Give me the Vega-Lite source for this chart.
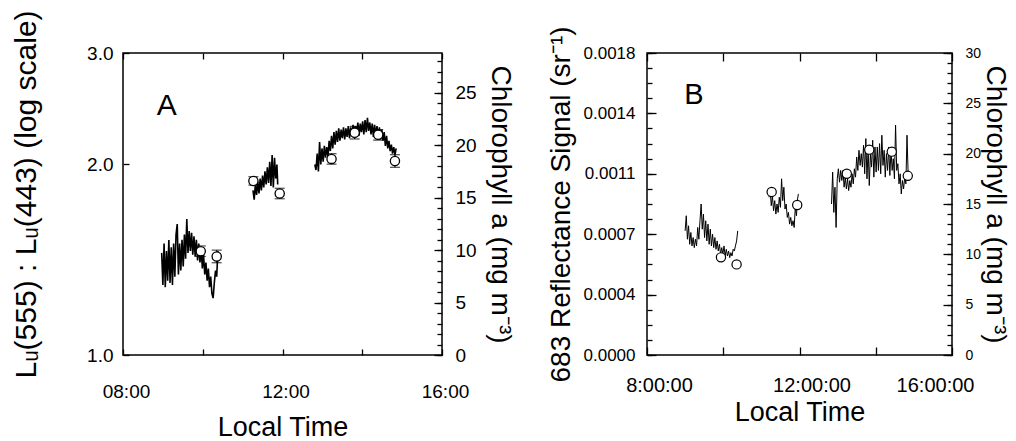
{
"$schema": "https://vega.github.io/schema/vega-lite/v6.json",
"background": "white",
"padding": {"left": 10, "top": 9, "right": 5, "bottom": 5},
"autosize": {"type": "pad"},
"bounds": "flush",
"spacing": 205,
"config": {
  "view": {"stroke": "black", "strokeWidth": 1.5},
  "font": "Liberation Sans",
  "text": {"font": "Liberation Sans"},
  "axis": {"domain": false, "grid": false, "tickColor": "black", "tickWidth": 1.3, "labelColor": "black", "titleColor": "black", "labelFont": "Liberation Sans", "titleFont": "Liberation Sans", "titleFontWeight": "normal", "labelOverlap": false, "labelFlush": false}
},
"datasets": {
  "lineA": [
    {"t":8.97,"v":1.45,"s":1},{"t":9.00,"v":1.29,"s":1},{"t":9.03,"v":1.50,"s":1},{"t":9.06,"v":1.28,"s":1},{"t":9.09,"v":1.46,"s":1},{"t":9.12,"v":1.31,"s":1},{"t":9.15,"v":1.52,"s":1},{"t":9.18,"v":1.30,"s":1},{"t":9.21,"v":1.48,"s":1},{"t":9.24,"v":1.29,"s":1},{"t":9.27,"v":1.50,"s":1},{"t":9.30,"v":1.33,"s":1},{"t":9.33,"v":1.55,"s":1},{"t":9.36,"v":1.61,"s":1},{"t":9.39,"v":1.34,"s":1},{"t":9.42,"v":1.50,"s":1},{"t":9.45,"v":1.36,"s":1},{"t":9.48,"v":1.52,"s":1},{"t":9.51,"v":1.38,"s":1},{"t":9.54,"v":1.55,"s":1},{"t":9.57,"v":1.42,"s":1},{"t":9.60,"v":1.64,"s":1},{"t":9.63,"v":1.45,"s":1},{"t":9.66,"v":1.57,"s":1},{"t":9.69,"v":1.46,"s":1},{"t":9.72,"v":1.56,"s":1},{"t":9.75,"v":1.44,"s":1},{"t":9.78,"v":1.54,"s":1},{"t":9.81,"v":1.43,"s":1},{"t":9.84,"v":1.52,"s":1},{"t":9.87,"v":1.41,"s":1},{"t":9.90,"v":1.50,"s":1},{"t":9.93,"v":1.40,"s":1},{"t":9.96,"v":1.47,"s":1},{"t":9.99,"v":1.37,"s":1},{"t":10.02,"v":1.44,"s":1},{"t":10.05,"v":1.34,"s":1},{"t":10.08,"v":1.40,"s":1},{"t":10.11,"v":1.31,"s":1},{"t":10.14,"v":1.37,"s":1},{"t":10.17,"v":1.28,"s":1},{"t":10.20,"v":1.33,"s":1},{"t":10.23,"v":1.25,"s":1},{"t":10.26,"v":1.23,"s":1},{"t":10.29,"v":1.30,"s":1},{"t":10.32,"v":1.36,"s":1},{"t":10.35,"v":1.33,"s":1},{"t":10.38,"v":1.46,"s":1},
    {"t":11.26,"v":1.82,"s":2},{"t":11.29,"v":1.76,"s":2},{"t":11.32,"v":1.86,"s":2},{"t":11.35,"v":1.79,"s":2},{"t":11.38,"v":1.88,"s":2},{"t":11.41,"v":1.80,"s":2},{"t":11.44,"v":1.90,"s":2},{"t":11.47,"v":1.82,"s":2},{"t":11.50,"v":1.92,"s":2},{"t":11.53,"v":1.84,"s":2},{"t":11.56,"v":1.95,"s":2},{"t":11.59,"v":1.86,"s":2},{"t":11.62,"v":1.98,"s":2},{"t":11.65,"v":1.87,"s":2},{"t":11.68,"v":2.02,"s":2},{"t":11.71,"v":1.85,"s":2},{"t":11.74,"v":2.07,"s":2},{"t":11.77,"v":1.84,"s":2},{"t":11.80,"v":2.05,"s":2},{"t":11.83,"v":1.90,"s":2},{"t":11.86,"v":2.00,"s":2},{"t":11.88,"v":1.86,"s":2},
    {"t":12.81,"v":2.00,"s":3},{"t":12.84,"v":1.96,"s":3},{"t":12.87,"v":2.08,"s":3},{"t":12.90,"v":1.95,"s":3},{"t":12.93,"v":2.17,"s":3},{"t":12.96,"v":2.00,"s":3},{"t":12.99,"v":2.12,"s":3},{"t":13.02,"v":2.02,"s":3},{"t":13.05,"v":2.14,"s":3},{"t":13.08,"v":2.05,"s":3},{"t":13.11,"v":2.13,"s":3},{"t":13.14,"v":2.06,"s":3},{"t":13.17,"v":2.18,"s":3},{"t":13.20,"v":2.10,"s":3},{"t":13.23,"v":2.22,"s":3},{"t":13.26,"v":2.12,"s":3},{"t":13.29,"v":2.25,"s":3},{"t":13.32,"v":2.15,"s":3},{"t":13.35,"v":2.26,"s":3},{"t":13.38,"v":2.17,"s":3},{"t":13.41,"v":2.28,"s":3},{"t":13.44,"v":2.18,"s":3},{"t":13.47,"v":2.27,"s":3},{"t":13.50,"v":2.20,"s":3},{"t":13.53,"v":2.29,"s":3},{"t":13.56,"v":2.19,"s":3},{"t":13.59,"v":2.28,"s":3},{"t":13.62,"v":2.21,"s":3},{"t":13.65,"v":2.30,"s":3},{"t":13.68,"v":2.20,"s":3},{"t":13.71,"v":2.29,"s":3},{"t":13.74,"v":2.22,"s":3},{"t":13.77,"v":2.31,"s":3},{"t":13.80,"v":2.21,"s":3},{"t":13.83,"v":2.30,"s":3},{"t":13.86,"v":2.24,"s":3},{"t":13.89,"v":2.33,"s":3},{"t":13.92,"v":2.22,"s":3},{"t":13.95,"v":2.32,"s":3},{"t":13.98,"v":2.25,"s":3},{"t":14.01,"v":2.34,"s":3},{"t":14.04,"v":2.23,"s":3},{"t":14.07,"v":2.35,"s":3},{"t":14.10,"v":2.25,"s":3},{"t":14.13,"v":2.37,"s":3},{"t":14.16,"v":2.26,"s":3},{"t":14.19,"v":2.33,"s":3},{"t":14.22,"v":2.23,"s":3},{"t":14.25,"v":2.32,"s":3},{"t":14.28,"v":2.21,"s":3},{"t":14.31,"v":2.31,"s":3},{"t":14.34,"v":2.22,"s":3},{"t":14.37,"v":2.30,"s":3},{"t":14.40,"v":2.20,"s":3},{"t":14.43,"v":2.29,"s":3},{"t":14.46,"v":2.19,"s":3},{"t":14.49,"v":2.27,"s":3},{"t":14.52,"v":2.18,"s":3},{"t":14.55,"v":2.25,"s":3},{"t":14.58,"v":2.14,"s":3},{"t":14.61,"v":2.22,"s":3},{"t":14.64,"v":2.12,"s":3},{"t":14.67,"v":2.18,"s":3},{"t":14.70,"v":2.10,"s":3},{"t":14.73,"v":2.15,"s":3},{"t":14.76,"v":2.08,"s":3},{"t":14.79,"v":2.13,"s":3},{"t":14.82,"v":2.07,"s":3},{"t":14.85,"v":2.12,"s":3}
  ],
  "ptsA": [
    {"t":9.95,"chl":9.9,"lo":9.4,"hi":10.4},{"t":10.35,"chl":9.4,"lo":8.8,"hi":10.0},{"t":11.27,"chl":16.6,"lo":16.2,"hi":17.0},{"t":11.93,"chl":15.4,"lo":14.9,"hi":15.9},{"t":13.23,"chl":18.7,"lo":18.2,"hi":19.2},{"t":13.81,"chl":21.2,"lo":20.6,"hi":21.8},{"t":14.40,"chl":21.0,"lo":20.5,"hi":21.5},{"t":14.82,"chl":18.5,"lo":17.9,"hi":19.1}
  ],
  "lineB": [
    {"t":9.00,"v":0.00074,"s":1},{"t":9.03,"v":0.00083,"s":1},{"t":9.06,"v":0.00069,"s":1},{"t":9.09,"v":0.00077,"s":1},{"t":9.12,"v":0.00066,"s":1},{"t":9.15,"v":0.00073,"s":1},{"t":9.18,"v":0.00065,"s":1},{"t":9.21,"v":0.00070,"s":1},{"t":9.24,"v":0.00064,"s":1},{"t":9.27,"v":0.00069,"s":1},{"t":9.30,"v":0.00065,"s":1},{"t":9.33,"v":0.00076,"s":1},{"t":9.36,"v":0.00069,"s":1},{"t":9.39,"v":0.00080,"s":1},{"t":9.42,"v":0.00090,"s":1},{"t":9.45,"v":0.00075,"s":1},{"t":9.48,"v":0.00084,"s":1},{"t":9.51,"v":0.00070,"s":1},{"t":9.54,"v":0.00080,"s":1},{"t":9.57,"v":0.00068,"s":1},{"t":9.60,"v":0.00078,"s":1},{"t":9.63,"v":0.00066,"s":1},{"t":9.66,"v":0.00075,"s":1},{"t":9.69,"v":0.00065,"s":1},{"t":9.72,"v":0.00072,"s":1},{"t":9.75,"v":0.00064,"s":1},{"t":9.78,"v":0.00070,"s":1},{"t":9.81,"v":0.00063,"s":1},{"t":9.84,"v":0.00068,"s":1},{"t":9.87,"v":0.00062,"s":1},{"t":9.90,"v":0.00066,"s":1},{"t":9.93,"v":0.00060,"s":1},{"t":9.96,"v":0.00064,"s":1},{"t":9.99,"v":0.00060,"s":1},{"t":10.02,"v":0.00065,"s":1},{"t":10.05,"v":0.00059,"s":1},{"t":10.08,"v":0.00063,"s":1},{"t":10.11,"v":0.00059,"s":1},{"t":10.14,"v":0.00062,"s":1},{"t":10.17,"v":0.00058,"s":1},{"t":10.20,"v":0.00061,"s":1},{"t":10.23,"v":0.00059,"s":1},{"t":10.26,"v":0.00063,"s":1},{"t":10.29,"v":0.00062,"s":1},{"t":10.32,"v":0.00065,"s":1},{"t":10.35,"v":0.00068,"s":1},{"t":10.38,"v":0.00074,"s":1},
    {"t":11.20,"v":0.00094,"s":2},{"t":11.23,"v":0.00098,"s":2},{"t":11.26,"v":0.00089,"s":2},{"t":11.29,"v":0.00095,"s":2},{"t":11.32,"v":0.00086,"s":2},{"t":11.35,"v":0.00092,"s":2},{"t":11.38,"v":0.00084,"s":2},{"t":11.41,"v":0.00090,"s":2},{"t":11.44,"v":0.00085,"s":2},{"t":11.47,"v":0.00094,"s":2},{"t":11.50,"v":0.00088,"s":2},{"t":11.53,"v":0.00105,"s":2},{"t":11.56,"v":0.00092,"s":2},{"t":11.59,"v":0.00100,"s":2},{"t":11.62,"v":0.00087,"s":2},{"t":11.65,"v":0.00090,"s":2},{"t":11.68,"v":0.00082,"s":2},{"t":11.71,"v":0.00085,"s":2},{"t":11.74,"v":0.00078,"s":2},{"t":11.77,"v":0.00082,"s":2},{"t":11.80,"v":0.00077,"s":2},{"t":11.83,"v":0.00080,"s":2},{"t":11.86,"v":0.00076,"s":2},{"t":11.89,"v":0.00088,"s":2},{"t":11.92,"v":0.00083,"s":2},{"t":11.95,"v":0.00093,"s":2},{"t":11.97,"v":0.00096,"s":2},
    {"t":12.84,"v":0.00090,"s":3},{"t":12.87,"v":0.00109,"s":3},{"t":12.90,"v":0.00085,"s":3},{"t":12.93,"v":0.00100,"s":3},{"t":12.96,"v":0.00076,"s":3},{"t":12.99,"v":0.00105,"s":3},{"t":13.02,"v":0.00111,"s":3},{"t":13.05,"v":0.00103,"s":3},{"t":13.08,"v":0.00110,"s":3},{"t":13.11,"v":0.00104,"s":3},{"t":13.14,"v":0.00110,"s":3},{"t":13.17,"v":0.00100,"s":3},{"t":13.20,"v":0.00106,"s":3},{"t":13.23,"v":0.00099,"s":3},{"t":13.26,"v":0.00105,"s":3},{"t":13.29,"v":0.00098,"s":3},{"t":13.32,"v":0.00104,"s":3},{"t":13.35,"v":0.00100,"s":3},{"t":13.38,"v":0.00108,"s":3},{"t":13.41,"v":0.00102,"s":3},{"t":13.44,"v":0.00111,"s":3},{"t":13.47,"v":0.00106,"s":3},{"t":13.50,"v":0.00118,"s":3},{"t":13.53,"v":0.00110,"s":3},{"t":13.56,"v":0.00122,"s":3},{"t":13.59,"v":0.00113,"s":3},{"t":13.62,"v":0.00120,"s":3},{"t":13.65,"v":0.00112,"s":3},{"t":13.68,"v":0.00125,"s":3},{"t":13.71,"v":0.00108,"s":3},{"t":13.74,"v":0.00129,"s":3},{"t":13.77,"v":0.00105,"s":3},{"t":13.80,"v":0.00123,"s":3},{"t":13.83,"v":0.00101,"s":3},{"t":13.86,"v":0.00120,"s":3},{"t":13.89,"v":0.00112,"s":3},{"t":13.92,"v":0.00128,"s":3},{"t":13.95,"v":0.00106,"s":3},{"t":13.98,"v":0.00124,"s":3},{"t":14.01,"v":0.00109,"s":3},{"t":14.04,"v":0.00124,"s":3},{"t":14.07,"v":0.00110,"s":3},{"t":14.10,"v":0.00126,"s":3},{"t":14.13,"v":0.00108,"s":3},{"t":14.16,"v":0.00131,"s":3},{"t":14.19,"v":0.00113,"s":3},{"t":14.22,"v":0.00122,"s":3},{"t":14.25,"v":0.00106,"s":3},{"t":14.28,"v":0.00120,"s":3},{"t":14.31,"v":0.00110,"s":3},{"t":14.34,"v":0.00124,"s":3},{"t":14.37,"v":0.00107,"s":3},{"t":14.40,"v":0.00122,"s":3},{"t":14.43,"v":0.00110,"s":3},{"t":14.46,"v":0.00117,"s":3},{"t":14.49,"v":0.00105,"s":3},{"t":14.52,"v":0.00137,"s":3},{"t":14.55,"v":0.00110,"s":3},{"t":14.58,"v":0.00114,"s":3},{"t":14.61,"v":0.00102,"s":3},{"t":14.64,"v":0.00108,"s":3},{"t":14.67,"v":0.00096,"s":3},{"t":14.70,"v":0.00104,"s":3},{"t":14.73,"v":0.00099,"s":3},{"t":14.76,"v":0.00106,"s":3},{"t":14.79,"v":0.00102,"s":3},{"t":14.82,"v":0.00131,"s":3},{"t":14.85,"v":0.00108,"s":3}
  ],
  "ptsB": [
    {"t":9.94,"chl":9.7},{"t":10.35,"chl":9.0},{"t":11.27,"chl":16.2},{"t":11.94,"chl":14.9},{"t":13.24,"chl":18.0},{"t":13.83,"chl":20.4},{"t":14.42,"chl":20.2},{"t":14.84,"chl":17.8}
  ]
},
"hconcat": [
  {
    "width": 319, "height": 302,
    "layer": [
      {"layer": [
        {"data": {"name": "lineA"}, "mark": {"type": "line", "color": "black", "strokeWidth": 1.6},
         "encoding": {
           "x": {"field": "t", "type": "quantitative", "scale": {"domain": [8, 16], "nice": false, "zero": false},
                 "axis": {"orient": "bottom", "values": [8, 10, 12, 14, 16], "labelExpr": "datum.value == 8 ? '08:00' : datum.value == 12 ? '12:00' : datum.value == 16 ? '16:00' : ''", "tickSize": 6, "offset": -6, "labelPadding": 27, "labelOffset": 3, "labelFontSize": 19, "title": "Local Time", "titleFontSize": 27, "titlePadding": 13}},
           "y": {"field": "v", "type": "quantitative", "scale": {"type": "log", "domain": [1, 3], "nice": false},
                 "axis": {"orient": "left", "values": [1, 2, 3], "format": ".1f", "tickSize": 6, "offset": -6, "labelPadding": 10, "labelFontSize": 19, "title": "Lᵤ(555) : Lᵤ(443) (log scale)", "titleFontSize": 30, "titlePadding": 45, "titleY": 141}},
           "detail": {"field": "s", "type": "nominal"}
         }},
        {"data": {"values": [{"t": 9.1, "v": 2.47, "label": "A"}]}, "mark": {"type": "text", "fontSize": 30, "color": "black", "align": "center", "baseline": "middle"},
         "encoding": {
           "x": {"field": "t", "type": "quantitative", "scale": {"domain": [8, 16], "nice": false, "zero": false},
                 "axis": {"orient": "bottom", "values": [8, 10, 12, 14, 16], "labelExpr": "datum.value == 8 ? '08:00' : datum.value == 12 ? '12:00' : datum.value == 16 ? '16:00' : ''", "tickSize": 6, "offset": -6, "labelPadding": 27, "labelOffset": 3, "labelFontSize": 19, "title": "Local Time", "titleFontSize": 27, "titlePadding": 13}},
           "y": {"field": "v", "type": "quantitative", "scale": {"type": "log", "domain": [1, 3], "nice": false},
                 "axis": {"orient": "left", "values": [1, 2, 3], "format": ".1f", "tickSize": 6, "offset": -6, "labelPadding": 10, "labelFontSize": 19, "title": "Lᵤ(555) : Lᵤ(443) (log scale)", "titleFontSize": 30, "titlePadding": 45, "titleY": 141}},
           "text": {"field": "label"}
         }}
      ]},
      {"layer": [
        {"data": {"name": "ptsA"}, "mark": {"type": "errorbar", "ticks": true, "size": 10, "thickness": 1.2, "color": "black"},
         "encoding": {
           "x": {"field": "t", "type": "quantitative", "scale": {"domain": [8, 16], "nice": false, "zero": false},
                 "axis": {"orient": "top", "values": [8, 10, 12, 14, 16], "labels": false, "title": null, "tickSize": 6, "offset": -6}},
           "y": {"field": "lo", "type": "quantitative", "scale": {"domain": [0, 28.8], "nice": false},
                 "axis": {"orient": "right", "values": [0, 5, 10, 15, 20, 25], "tickSize": 8, "offset": -8, "labelPadding": 13, "labelFontSize": 19, "title": "Chlorophyll a (mg m⁻³)", "titleFontSize": 28, "titlePadding": 9}},
           "y2": {"field": "hi"}
         }},
        {"data": {"name": "ptsA"}, "mark": {"type": "point", "shape": "circle", "filled": true, "fill": "white", "stroke": "black", "strokeWidth": 1.3, "size": 85, "opacity": 1},
         "encoding": {
           "x": {"field": "t", "type": "quantitative", "scale": {"domain": [8, 16], "nice": false, "zero": false},
                 "axis": {"orient": "top", "values": [8, 10, 12, 14, 16], "labels": false, "title": null, "tickSize": 6, "offset": -6}},
           "y": {"field": "chl", "type": "quantitative", "scale": {"domain": [0, 28.8], "nice": false},
                 "axis": {"orient": "right", "values": [0, 5, 10, 15, 20, 25], "tickSize": 8, "offset": -8, "labelPadding": 13, "labelFontSize": 19, "title": "Chlorophyll a (mg m⁻³)", "titleFontSize": 28, "titlePadding": 9}}
         }}
      ]},
      {"data": {"values": [{"t": 8, "m": 0}]}, "mark": {"type": "point", "opacity": 0},
       "encoding": {
         "x": {"field": "t", "type": "quantitative", "scale": {"domain": [8, 16], "nice": false, "zero": false}, "axis": null},
         "y": {"field": "m", "type": "quantitative", "scale": {"domain": [0, 28.8], "nice": false},
               "axis": {"orient": "right", "values": [0,1,2,3,4,5,6,7,8,9,10,11,12,13,14,15,16,17,18,19,20,21,22,23,24,25,26,27,28], "labels": false, "title": null, "tickSize": 5, "offset": -5}}
       }}
    ],
    "resolve": {"scale": {"y": "independent"}, "axis": {"x": "independent"}}
  },
  {
    "width": 305, "height": 302,
    "layer": [
      {"layer": [
        {"data": {"name": "lineB"}, "mark": {"type": "line", "color": "black", "strokeWidth": 1},
         "encoding": {
           "x": {"field": "t", "type": "quantitative", "scale": {"domain": [8, 16], "nice": false, "zero": false},
                 "axis": {"orient": "bottom", "values": [8, 10, 12, 14, 16], "labelExpr": "datum.value == 8 ? '8:00:00' : datum.value == 12 ? '12:00:00' : datum.value == 16 ? '16:00:00' : ''", "tickSize": 8, "offset": -8, "labelPadding": 20, "labelOffset": {"condition": {"test": "datum.value == 16", "value": -17}, "value": 12}, "labelFontSize": 20, "title": "Local Time", "titleFontSize": 27, "titlePadding": 4}},
           "y": {"field": "v", "type": "quantitative", "scale": {"domain": [0, 0.0018], "nice": false},
                 "axis": {"orient": "left", "values": [0, 0.00036, 0.00072, 0.00108, 0.00144, 0.0018], "format": ".4f", "tickSize": 9, "offset": -9, "labelPadding": 12, "labelFontSize": 17, "title": "683 Reflectance Signal (sr⁻¹)", "titleFontSize": 28, "titlePadding": 8}},
           "detail": {"field": "s", "type": "nominal"}
         }},
        {"data": {"values": [{"t": 9.23, "v": 0.00155, "label": "B"}]}, "mark": {"type": "text", "fontSize": 29, "color": "black", "align": "center", "baseline": "middle"},
         "encoding": {
           "x": {"field": "t", "type": "quantitative", "scale": {"domain": [8, 16], "nice": false, "zero": false},
                 "axis": {"orient": "bottom", "values": [8, 10, 12, 14, 16], "labelExpr": "datum.value == 8 ? '8:00:00' : datum.value == 12 ? '12:00:00' : datum.value == 16 ? '16:00:00' : ''", "tickSize": 8, "offset": -8, "labelPadding": 20, "labelOffset": {"condition": {"test": "datum.value == 16", "value": -17}, "value": 12}, "labelFontSize": 20, "title": "Local Time", "titleFontSize": 27, "titlePadding": 4}},
           "y": {"field": "v", "type": "quantitative", "scale": {"domain": [0, 0.0018], "nice": false},
                 "axis": {"orient": "left", "values": [0, 0.00036, 0.00072, 0.00108, 0.00144, 0.0018], "format": ".4f", "tickSize": 9, "offset": -9, "labelPadding": 12, "labelFontSize": 17, "title": "683 Reflectance Signal (sr⁻¹)", "titleFontSize": 28, "titlePadding": 8}},
           "text": {"field": "label"}
         }}
      ]},
      {"layer": [
        {"data": {"name": "ptsB"}, "mark": {"type": "point", "shape": "circle", "filled": true, "fill": "white", "stroke": "black", "strokeWidth": 1.2, "size": 85, "opacity": 1},
         "encoding": {
           "x": {"field": "t", "type": "quantitative", "scale": {"domain": [8, 16], "nice": false, "zero": false},
                 "axis": {"orient": "top", "values": [8, 10, 12, 14, 16], "labels": false, "title": null, "tickSize": 8, "offset": -8}},
           "y": {"field": "chl", "type": "quantitative", "scale": {"domain": [0, 30], "nice": false},
                 "axis": {"orient": "right", "values": [0, 5, 10, 15, 20, 25, 30], "tickSize": 9, "offset": -9, "labelPadding": 13, "labelFontSize": 14, "title": "Chlorophyll a (mg m⁻³)", "titleFontSize": 28, "titlePadding": 0}}
         }}
      ]},
      {"data": {"values": [{"t": 8, "m": 0}]}, "mark": {"type": "point", "opacity": 0},
       "encoding": {
         "x": {"field": "t", "type": "quantitative", "scale": {"domain": [8, 16], "nice": false, "zero": false}, "axis": null},
         "y": {"field": "m", "type": "quantitative", "scale": {"domain": [0, 30], "nice": false},
               "axis": {"orient": "right", "values": [0,1,2,3,4,5,6,7,8,9,10,11,12,13,14,15,16,17,18,19,20,21,22,23,24,25,26,27,28,29,30], "labels": false, "title": null, "tickSize": 5, "offset": -5}}
       }},
      {"data": {"values": [{"t": 8, "m": 0}]}, "mark": {"type": "point", "opacity": 0},
       "encoding": {
         "x": {"field": "t", "type": "quantitative", "scale": {"domain": [8, 16], "nice": false, "zero": false}, "axis": null},
         "y": {"field": "m", "type": "quantitative", "scale": {"domain": [0, 0.0018], "nice": false},
               "axis": {"orient": "left", "values": [0,0.00009,0.00018,0.00027,0.00036,0.00045,0.00054,0.00063,0.00072,0.00081,0.0009,0.00099,0.00108,0.00117,0.00126,0.00135,0.00144,0.00153,0.00162,0.00171,0.0018], "labels": false, "title": null, "tickSize": 5, "offset": -5}}
       }}
    ],
    "resolve": {"scale": {"y": "independent"}, "axis": {"x": "independent"}}
  }
]
}
